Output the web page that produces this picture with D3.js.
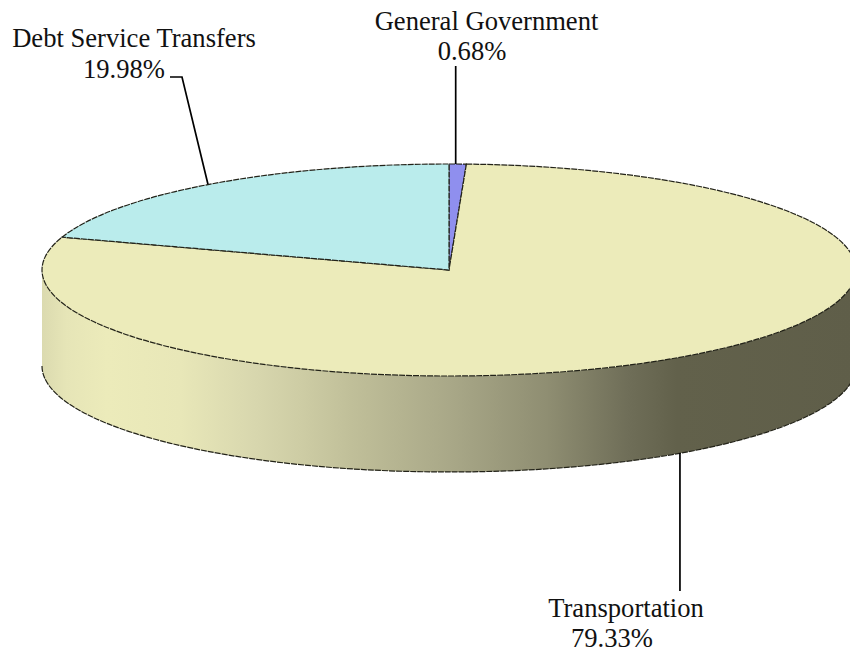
<!DOCTYPE html>
<html>
<head>
<meta charset="utf-8">
<script src="https://cdn.jsdelivr.net/npm/d3@7"></script>
<style>
  html, body { margin: 0; padding: 0; background: #ffffff; }
  svg { display: block; }
  text { font-family: "Liberation Serif", serif; font-size: 26.6px; fill: #111111; }
</style>
</head>
<body>
<svg id="chart" width="850" height="652"></svg>
<script>
var categories = ['General Government', 'Transportation', 'Debt Service Transfers'];
var shares = [0.68, 79.33, 19.98];
var shareLabels = ['0.68%', '79.33%', '19.98%'];
var sliceColors = ['#8f8fee', '#ecebba', '#baecec'];

var svg = d3.select('#chart');
var width = +svg.attr('width');
var height = +svg.attr('height');

var centerX = 449;
var centerY = 270;
var rx = 407;
var ry = 106;
var depth = 96;

var pie = d3.pie().sort(null).value(function(d) { return d; });
var slices = pie(shares);

var arc = d3.arc().innerRadius(0).outerRadius(rx);

// side shading runs left to right across the rim
var defs = svg.append('defs');
var sideGradient = defs.append('linearGradient')
  .attr('id', 'side-shade')
  .attr('gradientUnits', 'userSpaceOnUse')
  .attr('x1', centerX - rx)
  .attr('x2', centerX + rx)
  .attr('y1', 0)
  .attr('y2', 0);

sideGradient.selectAll('stop')
  .data([
    [0, '#dbdaaf'], [0.03, '#e6e5b7'], [0.08, '#ecebba'], [0.17, '#e8e7b8'],
    [0.26, '#d8d7ae'], [0.32, '#cdcca4'], [0.38, '#c0bf99'], [0.5, '#a9a888'],
    [0.62, '#8f8e72'], [0.72, '#6f6e58'], [0.78, '#62614b'], [1, '#5f5e49']
  ])
  .enter().append('stop')
  .attr('offset', function(d) { return d[0]; })
  .attr('stop-color', function(d) { return d[1]; });

function px(angle) {
  return centerX + Math.sin(angle) * rx;
}

function py(angle) {
  return centerY - Math.cos(angle) * ry;
}

var leftEdge = (centerX - rx) + ',' + centerY;
var rightEdge = (centerX + rx) + ',' + centerY;
var leftLow = (centerX - rx) + ',' + (centerY + depth);
var rightLow = (centerX + rx) + ',' + (centerY + depth);

svg.append('path')
  .attr('class', 'pie-side')
  .attr('d', 'M' + leftEdge + 'A' + rx + ',' + ry + ' 0 0 0 ' + rightEdge +
    'L' + rightLow + 'A' + rx + ',' + ry + ' 0 0 1 ' + leftLow + 'Z')
  .style('fill', 'url(#side-shade)');

svg.append('path')
  .attr('class', 'pie-side-edge')
  .attr('d', 'M' + leftLow + 'A' + rx + ',' + ry + ' 0 0 0 ' + rightLow)
  .style('fill', 'none')
  .style('stroke', '#222218')
  .style('stroke-width', 1.2)
  .style('stroke-dasharray', '6,1');

svg.append('g')
  .attr('transform', 'translate(' + centerX + ',' + centerY + ') scale(1,' + (ry / rx) + ')')
  .selectAll('.slice')
  .data(slices)
  .enter().append('path')
  .attr('class', 'slice')
  .attr('d', arc)
  .attr('vector-effect', 'non-scaling-stroke')
  .style('fill', function(d, i) { return sliceColors[i]; })
  .style('stroke', '#222218')
  .style('stroke-width', 1.2)
  .style('stroke-dasharray', '6,1');

function midAngle(d) {
  return (d.startAngle + d.endAngle) / 2;
}

// leader lines leave the rim at each slice's middle angle
var generalMid = midAngle(slices[0]);
var transportMid = midAngle(slices[1]);
var debtMid = midAngle(slices[2]);

var leaders = [
  [[px(generalMid) - 2, 66], [px(generalMid) - 2, py(generalMid)]],
  [[px(transportMid) - 1, py(transportMid) + depth], [px(transportMid) - 1, 591]],
  [[170, 77], [182, 77], [px(debtMid) - 2, py(debtMid)]]
];

svg.selectAll('.leader')
  .data(leaders)
  .enter().append('path')
  .attr('class', 'leader')
  .attr('d', d3.line())
  .style('fill', 'none')
  .style('stroke', '#000000')
  .style('stroke-width', 1.7);

var labelSpots = [
  { name: [486.5, 30], share: [472, 60] },
  { name: [626, 617], share: [612, 647] },
  { name: [134, 47], share: [124, 78] }
];

svg.selectAll('.category-text')
  .data(categories)
  .enter().append('text')
  .attr('class', 'category-text')
  .attr('x', function(d, i) { return labelSpots[i].name[0]; })
  .attr('y', function(d, i) { return labelSpots[i].name[1]; })
  .style('text-anchor', 'middle')
  .text(function(d) { return d; });

svg.selectAll('.share-text')
  .data(shareLabels)
  .enter().append('text')
  .attr('class', 'share-text')
  .attr('x', function(d, i) { return labelSpots[i].share[0]; })
  .attr('y', function(d, i) { return labelSpots[i].share[1]; })
  .style('text-anchor', 'middle')
  .text(function(d) { return d; });
</script>
</body>
</html>
